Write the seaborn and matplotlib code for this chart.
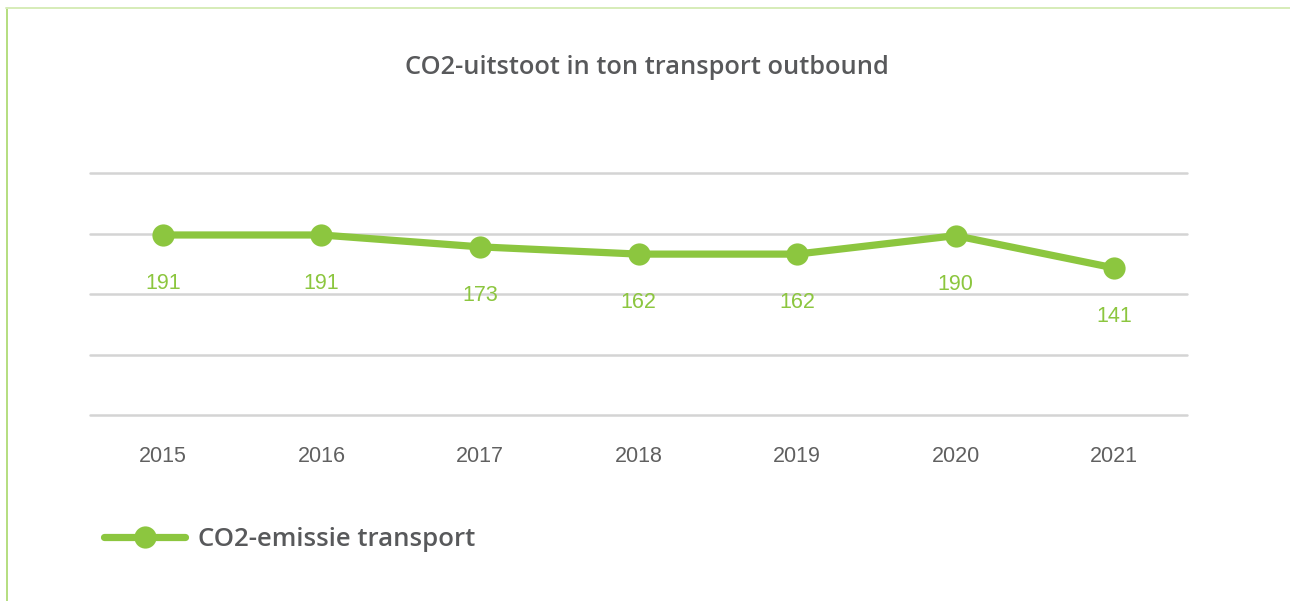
import numpy as np
import pandas as pd
import matplotlib
matplotlib.use("Agg")
import matplotlib.pyplot as plt
import seaborn as sns
from matplotlib.lines import Line2D

years = ["2015", "2016", "2017", "2018", "2019", "2020", "2021"]
values = [191, 191, 173, 162, 162, 190, 141]
title = "CO2-uitstoot in ton transport outbound"
series_name = "CO2-emissie transport"

GREEN = "#8cc63f"
GRID = "#d4d4d4"
TEXT = "#58595b"

sns.set_theme(style="white")
plt.rcParams["font.family"] = ["Liberation Sans", "DejaVu Sans"]

df = pd.DataFrame({"idx": np.arange(len(years)), "value": values})

fig = plt.figure(figsize=(12.90, 6.01), dpi=100)
ax = fig.add_axes([90 / 1290, 1 - 415 / 601, (1187 - 90) / 1290, (415 - 173) / 601])

sns.lineplot(data=df, x="idx", y="value", ax=ax, color=GREEN, linewidth=5.2,
             marker="o", markersize=16, markeredgewidth=0, markerfacecolor=GREEN,
             legend=False, zorder=3)

ymin, ymax = -82, 285
ax.set_ylim(ymin, ymax)
ax.set_xlim(-0.46, len(years) - 1 + 0.46)
for gy in np.linspace(ymin, ymax, 5):
    ax.axhline(gy, color=GRID, linewidth=1.8, zorder=1, clip_on=False)

for s in ax.spines.values():
    s.set_visible(False)
ax.set_yticks([])
ax.set_xticks(df["idx"])
ax.set_xticklabels(years, fontsize=15.5, color="#606060")
ax.tick_params(axis="x", length=0, pad=22.5)
ax.set_xlabel("")
ax.set_ylabel("")

for i, v in zip(df["idx"], values):
    ax.annotate(str(v), (i, v), xytext=(0, -35), textcoords="offset points",
                ha="center", va="center", fontsize=15.5, color=GREEN)

fig.text(647 / 1290, 1 - 67 / 601, title, ha="center", va="center",
         fontsize=18.3, color=TEXT, family=["Open Sans", "DejaVu Sans"], fontweight="semibold")

# legend
h = Line2D([], [], color=GREEN, linewidth=5.2, marker="o", markersize=16,
           markeredgewidth=0)
fig.legend([h], [series_name], loc="center left", bbox_to_anchor=(104 / 1290, 1 - 539 / 601),
           frameon=False, handlelength=3.17, handletextpad=0.5, borderaxespad=0, borderpad=0,
           prop={"family": ["Open Sans", "DejaVu Sans"], "size": 18.5, "weight": "semibold"},
           labelcolor=TEXT)

# border lines
fig.add_artist(Line2D([6.5 / 1290, 6.5 / 1290], [0, 1 - 8 / 601], transform=fig.transFigure,
                      color="#a8d86a", linewidth=1.2))
fig.add_artist(Line2D([6 / 1290, 1], [1 - 8 / 601, 1 - 8 / 601], transform=fig.transFigure,
                      color="#d6ecb8", linewidth=1.4))

fig.savefig("out.png", dpi=100, facecolor="white")
